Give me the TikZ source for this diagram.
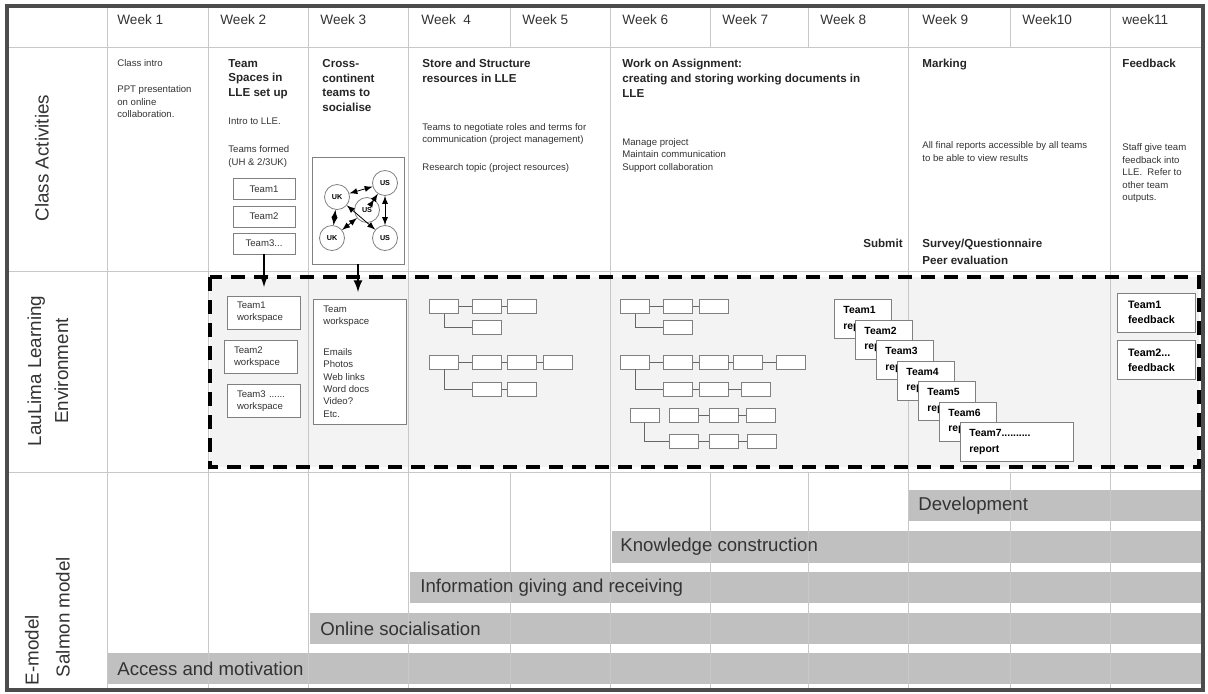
\documentclass[tikz,border=0pt]{standalone}
\usepackage{fontspec}
\setmainfont{Liberation Sans}
\definecolor{gridgray}{HTML}{C8C8C8}
\definecolor{bargray}{HTML}{C0C0C0}
\definecolor{inkgray}{HTML}{333333}
\definecolor{llefill}{HTML}{F3F3F3}
\tikzset{
  gridline/.style={draw=gridgray, line width=0.5pt},
  weekhead/.style={anchor=west, inner sep=0pt, font=\fontsize{6.8}{8}\selectfont, text=inkgray},
  rowlabel/.style={rotate=90, align=center, inner sep=0pt, font=\fontsize{9.4}{13.5}\selectfont, text=inkgray},
  title/.style={anchor=north west, inner sep=0pt, align=left, font=\fontsize{5.8}{7.3}\selectfont\bfseries, text=black!85},
  note/.style={anchor=north west, inner sep=0pt, align=left, font=\fontsize{4.8}{6.2}\selectfont, text=inkgray},
  teambox/.style={draw=gray, fill=white, inner sep=0pt, minimum width=31pt, minimum height=10.5pt, font=\fontsize{4.8}{6}\selectfont, text=inkgray},
  spacebox/.style={draw=gray, fill=white, inner xsep=5pt, inner ysep=0pt, text width=26.5pt, minimum height=16.5pt, align=left, font=\fontsize{4.8}{6}\selectfont, text=inkgray},
  country/.style={circle, draw=gray, fill=white, minimum size=12.5pt, inner sep=0pt, font=\fontsize{3.6}{4}\selectfont\bfseries},
  link/.style={latex-latex, line width=0.4pt},
  drop/.style={-latex, line width=1pt},
  leaf/.style={draw=gray, fill=white, minimum width=14.5pt, minimum height=7pt, inner sep=0pt},
  twig/.style={draw=gray!80!black, line width=0.5pt},
  report/.style={draw=gray, fill=white, anchor=north west, inner xsep=4.5pt, inner ysep=0pt, text width=19.5pt, minimum height=19.5pt, align=left, font=\fontsize{5.2}{7.6}\selectfont\bfseries},
  fbbox/.style={draw=gray, fill=white, inner xsep=5.5pt, inner ysep=0pt, text width=28pt, minimum height=19.5pt, align=left, font=\fontsize{5.4}{7.6}\selectfont\bfseries},
  lleframe/.style={line width=1.6pt, dash pattern=on 7pt off 4.5pt},
  phase/.style={anchor=west, inner sep=0pt, font=\fontsize{9.3}{11}\selectfont, text=inkgray}
}
\begin{document}
\begin{tikzpicture}[x=0.5pt,y=-0.5pt]
  \useasboundingbox (0,0) rectangle (1208,693);
  % shaded LLE area and phase bars
  \fill[llefill] (210,277) rectangle (1199,467);
  \fill[bargray] (908,490) rectangle (1203,521);
  \fill[bargray] (612,531) rectangle (1203,563);
  \fill[bargray] (410,572) rectangle (1203,603);
  \fill[bargray] (310,613) rectangle (1203,644);
  \fill[bargray] (107,653) rectangle (1203,684);

  % table grid
  \draw[gridline] (7,47) -- (1203,47);
  \draw[gridline] (7,271) -- (1203,271);
  \draw[gridline] (7,472) -- (1203,472);
  \draw[gridline] (107,6) -- (107,690);
  \draw[gridline] (208,6) -- (208,690);
  \draw[gridline] (308,6) -- (308,690);
  \draw[gridline] (408,6) -- (408,690);
  \draw[gridline] (510,6) -- (510,47);
  \draw[gridline] (510,472) -- (510,690);
  \draw[gridline] (610,6) -- (610,690);
  \draw[gridline] (710,6) -- (710,47);
  \draw[gridline] (710,472) -- (710,690);
  \draw[gridline] (808,6) -- (808,47);
  \draw[gridline] (808,472) -- (808,690);
  \draw[gridline] (908,6) -- (908,690);
  \draw[gridline] (1010,6) -- (1010,47);
  \draw[gridline] (1010,472) -- (1010,690);
  \draw[gridline] (1110,6) -- (1110,690);
  \draw[line width=1.6pt, draw=black!70] (7,6) rectangle (1203,690);

  % header
  \node[weekhead] (w1) at (117,20) {Week 1};
  \node[weekhead] (w2) at (220,20) {Week 2};
  \node[weekhead] (w3) at (320,20) {Week 3};
  \node[weekhead] (w4) at (421,20) {Week\ \ 4};
  \node[weekhead] (w5) at (522,20) {Week 5};
  \node[weekhead] (w6) at (622,20) {Week 6};
  \node[weekhead] (w7) at (722,20) {Week 7};
  \node[weekhead] (w8) at (820,20) {Week 8};
  \node[weekhead] (w9) at (922,20) {Week 9};
  \node[weekhead] (w10) at (1022,20) {Week10};
  \node[weekhead] (w11) at (1122,20) {week11};

  % row labels
  \node[rowlabel] (classlbl) at (42,158) {Class Activities};
  \node[rowlabel] (llelbl) at (48,371) {LauLima Learning\\Environment};
  \node[rowlabel] (emodel) at (32,650) {E-model};
  \node[rowlabel] (salmon) at (63,617) {Salmon model};

  % class activities
  \node[note] (intro) at (117,59.5) {Class intro};
  \node[note] (ppt) at (117,85.5) {PPT presentation\\on online\\collaboration.};
  \node[title] (spaces) at (228,59) {Team\\Spaces in\\LLE set up};
  \node[note] (introlle) at (228,117.5) {Intro to LLE.};
  \node[note] (formed) at (228,145.5) {Teams formed\\(UH \& 2/3UK)};
  \node[teambox] (team1) at (264,189) {Team1};
  \node[teambox] (team2) at (264,216.5) {Team2};
  \node[teambox] (team3) at (264,243.5) {Team3...};
  \node[title] (cross) at (322,59) {Cross-\\continent\\teams to\\socialise};
  \node[draw=gray, fill=white, minimum width=46pt, minimum height=53.5pt, inner sep=0pt] (gbox) at (358,210.5) {};
  \node[country] (gtl) at (337,197) {UK};
  \node[country] (gtr) at (385,183) {US};
  \node[country] (gc) at (367,210) {US};
  \node[country] (gbl) at (332,238) {UK};
  \node[country] (gbr) at (385,238) {US};
  \draw[link] (gtl) -- (gtr);
  \draw[link] (gtr) -- (gbr);
  \draw[link] (gtl) -- (gbl);
  \draw[link] (gtl) -- (gbr);
  \draw[link] (gc) -- (gtr);
  \draw[link] (gc) -- (gbl);
  \node[title] (store) at (422,59) {Store and Structure\\resources in LLE};
  \node[note] (negotiate) at (422,123) {Teams to negotiate roles and terms for\\communication (project management)};
  \node[note] (research) at (422,163) {Research topic (project resources)};
  \node[title] (assign) at (622,59) {Work on Assignment:\\creating and storing working documents in\\LLE};
  \node[note] (manage) at (622,138) {Manage project\\Maintain communication\\Support collaboration};
  \node[title, anchor=north east] (submit) at (903,239) {Submit};
  \node[title] (marking) at (922,59) {Marking};
  \node[note] (allfinal) at (922,141.5) {All final reports accessible by all teams\\to be able to view results};
  \node[title] (survey) at (922,239) {Survey/Questionnaire\\[1.2pt]Peer evaluation};
  \node[title] (feedback) at (1122,59) {Feedback};
  \node[note] (staff) at (1122,143.5) {Staff give team\\feedback into\\LLE.\ \ Refer to\\other team\\outputs.};

  % LLE row
  \coordinate (tdrop) at (264,287);
  \coordinate (gdrop) at (358,292);
  \draw[drop] (team3) -- (tdrop);
  \draw[drop] (gbox) -- (gdrop);
  \node[spacebox] (ws1) at (263.5,312.5) {Team1\\workspace};
  \node[spacebox] (ws2) at (260.5,357) {Team2\\workspace};
  \node[spacebox] (ws3) at (263.5,401) {Team3 ......\\workspace};
  \node[draw=gray, fill=white, minimum width=46.5pt, minimum height=62.5pt, inner sep=0pt] (wsbox) at (359.5,361.5) {};
  \node[note] (wstext) at (323,305.5) {Team\\workspace\\[9pt]Emails\\Photos\\Web links\\Word docs\\Video?\\Etc.};

  % resource trees, week 4
  \node[leaf] (a1) at (444,306.5) {};
  \node[leaf] (a2) at (487,306.5) {};
  \node[leaf] (a3) at (522,306.5) {};
  \node[leaf] (a4) at (487,327) {};
  \draw[twig] (a1) -- (a2);
  \draw[twig] (a2) -- (a3);
  \draw[twig] (a1.south) |- (a4.west);
  \node[leaf] (b1) at (444,362) {};
  \node[leaf] (b2) at (487,362) {};
  \node[leaf] (b3) at (522,362) {};
  \node[leaf] (b4) at (557.5,362) {};
  \node[leaf] (b5) at (487,389) {};
  \node[leaf] (b6) at (522,389) {};
  \draw[twig] (b1) -- (b2);
  \draw[twig] (b2) -- (b3);
  \draw[twig] (b3) -- (b4);
  \draw[twig] (b5) -- (b6);
  \draw[twig] (b1.south) |- (b5.west);

  % resource trees, week 6
  \node[leaf] (c1) at (635,306.5) {};
  \node[leaf] (c2) at (678,306.5) {};
  \node[leaf] (c3) at (713.5,306.5) {};
  \node[leaf] (c4) at (678,327) {};
  \draw[twig] (c1) -- (c2);
  \draw[twig] (c2) -- (c3);
  \draw[twig] (c1.south) |- (c4.west);
  \node[leaf] (d1) at (635,362) {};
  \node[leaf] (d2) at (678,362) {};
  \node[leaf] (d3) at (713.5,362) {};
  \node[leaf] (d4) at (748,362) {};
  \node[leaf] (d5) at (791,362) {};
  \node[leaf] (d6) at (678,389) {};
  \node[leaf] (d7) at (713.5,389) {};
  \node[leaf] (d8) at (756,389) {};
  \draw[twig] (d1) -- (d2);
  \draw[twig] (d2) -- (d3);
  \draw[twig] (d3) -- (d4);
  \draw[twig] (d4) -- (d5);
  \draw[twig] (d6) -- (d7);
  \draw[twig] (d7) -- (d8);
  \draw[twig] (d1.south) |- (d6.west);
  \node[leaf] (e1) at (644.5,415.5) {};
  \node[leaf] (e2) at (684,415.5) {};
  \node[leaf] (e3) at (723.5,415.5) {};
  \node[leaf] (e4) at (761,415.5) {};
  \node[leaf] (e5) at (684,441) {};
  \node[leaf] (e6) at (723.5,441) {};
  \node[leaf] (e7) at (761.5,441) {};
  \draw[twig] (e2) -- (e3);
  \draw[twig] (e3) -- (e4);
  \draw[twig] (e5) -- (e6);
  \draw[twig] (e6) -- (e7);
  \draw[twig] (e1.south) |- (e5.west);

  % team reports
  \node[report] (r1) at (834,299) {Team1\\report};
  \node[report] (r2) at (855,319.5) {Team2\\report};
  \node[report] (r3) at (876,340) {Team3\\report};
  \node[report] (r4) at (897,360.5) {Team4\\report};
  \node[report] (r5) at (918,381) {Team5\\report};
  \node[report] (r6) at (939,401.5) {Team6\\report};
  \node[report, text width=47.5pt] (r7) at (960,422) {Team7..........\\report};

  % feedback
  \node[fbbox] (fb1) at (1156,312.5) {Team1\\feedback};
  \node[fbbox] (fb2) at (1156,360) {Team2...\\feedback};

  \draw[lleframe] (210,277) rectangle (1199,467);

  % phases
  \node[phase] (develop) at (918,505.5) {Development};
  \node[phase] (knowledge) at (620,547) {Knowledge construction};
  \node[phase] (inform) at (420,587.5) {Information giving and receiving};
  \node[phase] (social) at (320,628.5) {Online socialisation};
  \node[phase] (access) at (117,668.5) {Access and motivation};
\end{tikzpicture}
\end{document}
